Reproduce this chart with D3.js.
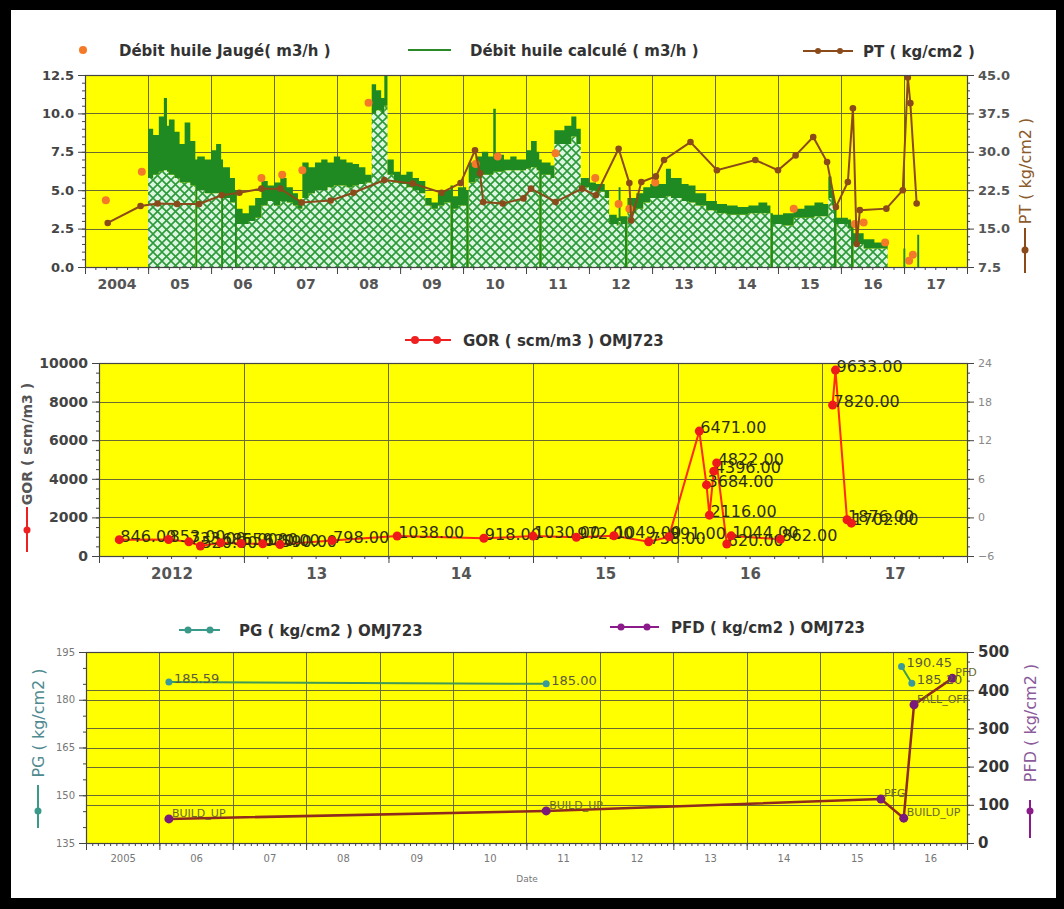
<!DOCTYPE html>
<html>
<head>
<meta charset="utf-8">
<script src="https://cdn.jsdelivr.net/npm/d3@7"></script>
<style>
body { margin: 0; background: #fff; }
svg { display: block; }
text { font-family: "DejaVu Sans", sans-serif; }
</style>
</head>
<body>
<svg width="1064" height="909"></svg>
<script>
// ---- data (decimal years) ----
var topYearLabels = ["2004", "05", "06", "07", "08", "09", "10", "11", "12", "13", "14", "15", "16", "17"];
var topLeftTicks = [0, 2.5, 5, 7.5, 10, 12.5];
var topRightTicks = [7.5, 15, 22.5, 30, 37.5, 45];

var jaugeYears = [2004.33, 2004.90, 2006.80, 2007.13, 2007.45, 2008.50, 2010.20, 2010.55, 2011.47, 2012.10, 2012.47, 2012.64, 2013.05, 2015.25, 2016.22, 2016.36, 2016.70, 2017.08, 2017.14];
var jaugeValues = [4.35, 6.2, 5.8, 6.0, 6.3, 10.7, 6.7, 7.2, 7.4, 5.8, 4.1, 3.8, 5.5, 3.8, 2.8, 2.9, 1.6, 0.4, 0.8];

var calcYears = [2005.00, 2005.08, 2005.17, 2005.25, 2005.30, 2005.33, 2005.42, 2005.50, 2005.58, 2005.67, 2005.75, 2005.78, 2005.90,
    2006.00, 2006.08, 2006.16, 2006.19, 2006.30, 2006.38, 2006.41, 2006.50, 2006.60, 2006.70, 2006.80, 2006.90,
    2007.00, 2007.10, 2007.20, 2007.30, 2007.38, 2007.45, 2007.55, 2007.65, 2007.75, 2007.85, 2007.95,
    2008.05, 2008.15, 2008.25, 2008.35, 2008.45, 2008.55, 2008.62, 2008.70, 2008.75, 2008.80, 2008.90,
    2009.00, 2009.10, 2009.20, 2009.30, 2009.40, 2009.50, 2009.60, 2009.70, 2009.80, 2009.84, 2009.92,
    2010.05, 2010.09, 2010.20, 2010.30, 2010.40, 2010.48, 2010.52, 2010.65, 2010.75, 2010.85,
    2011.00, 2011.08, 2011.17, 2011.21, 2011.25, 2011.39, 2011.45, 2011.61, 2011.72, 2011.80, 2011.87,
    2012.00, 2012.11, 2012.25, 2012.32, 2012.44, 2012.47, 2012.50, 2012.57, 2012.61, 2012.75, 2012.86, 2012.97,
    2013.08, 2013.22, 2013.30, 2013.47, 2013.58, 2013.69, 2013.86,
    2014.03, 2014.19, 2014.36, 2014.53, 2014.69, 2014.83, 2014.88, 2014.92,
    2015.08, 2015.25, 2015.42, 2015.58, 2015.72, 2015.80, 2015.85, 2015.89, 2015.93,
    2016.11, 2016.16, 2016.20, 2016.36, 2016.53, 2016.74, 2016.99, 2017.02, 2017.21, 2017.24];
var calcLow = [5.8, 6.0, 6.2, 6.3, 6.2, 6.0, 5.8, 5.5, 5.5, 5.3, 0, 5.0, 4.8,
    4.8, 4.8, 0, 4.5, 4.2, 0, 2.8, 2.8, 3.0, 3.2, 4.0, 4.3,
    4.0, 4.3, 4.2, 4.0, 3.8, 4.5, 4.8, 5.0, 5.0, 5.2, 5.3,
    5.3, 5.2, 5.3, 5.4, 5.5, 10.0, 10.2, 10.0, 10.5, 6.0, 5.5,
    5.4, 5.2, 5.0, 4.8, 4.0, 3.8, 4.0, 4.2, 0, 3.8, 4.0,
    0, 5.5, 5.8, 6.0, 6.0, 6.2, 6.2, 6.3, 6.3, 6.3,
    6.4, 6.5, 6.3, 0, 6.0, 5.8, 8.0, 8.0, 8.5, 8.0, 5.2,
    5.0, 4.9, 4.5, 2.8, 2.7, 3.0, 2.8, 0, 3.5, 3.8, 4.2, 4.5,
    4.5, 4.6, 4.5, 4.3, 4.2, 4.0, 3.7,
    3.5, 3.4, 3.4, 3.5, 3.5, 3.5, 0, 2.8,
    2.7, 3.2, 3.2, 3.3, 3.3, 4.5, 4.0, 0, 2.8,
    2.5, 0, 1.5, 1.2, 1.2, 0, 0, 0, 0, 0];
var calcHigh = [9.0, 8.6, 9.8, 11.0, 9.2, 9.6, 8.8, 8.0, 9.4, 8.2, 7.0, 7.2, 7.0,
    7.6, 8.0, 7.0, 6.5, 5.8, 5.0, 3.8, 3.5, 4.0, 4.5, 5.6, 5.3,
    5.5, 5.8, 5.2, 4.8, 4.4, 6.8, 6.5, 6.8, 7.0, 6.8, 7.2,
    7.0, 6.8, 6.7, 6.5, 6.0, 11.9, 11.5, 11.0, 12.5, 7.0, 6.2,
    6.0, 6.2, 5.8, 5.6, 4.5, 4.2, 4.8, 5.0, 5.3, 4.6, 5.2,
    5.0, 6.8, 7.2, 7.5, 7.2, 10.3, 7.3, 7.0, 7.2, 7.0,
    7.6, 8.2, 7.5, 7.0, 6.8, 6.6, 8.9, 9.2, 9.8, 9.0, 5.8,
    5.5, 5.4, 5.0, 3.4, 3.2, 5.2, 3.3, 3.3, 4.5, 4.8, 5.2, 5.4,
    5.4, 6.4, 5.8, 5.4, 5.3, 4.8, 4.3,
    4.1, 4.0, 3.9, 4.0, 4.2, 4.0, 3.5, 3.4,
    3.5, 3.8, 4.0, 4.2, 4.1, 5.9, 5.0, 4.0, 3.2,
    3.1, 2.8, 2.2, 1.8, 1.6, 0, 1.2, 0, 2.1, 0];

var ptYears = [2004.36, 2004.88, 2005.15, 2005.46, 2005.81, 2006.17, 2006.45, 2006.80, 2007.10, 2007.44, 2007.90, 2008.26,
    2008.75, 2009.20, 2009.66, 2009.96, 2010.19, 2010.27, 2010.32, 2010.63, 2010.96, 2011.08, 2011.47, 2011.89,
    2012.11, 2012.47, 2012.64, 2012.67, 2012.83, 2013.06, 2013.19, 2013.61, 2014.03, 2014.64, 2015.00, 2015.28,
    2015.56, 2015.78, 2015.92, 2016.11, 2016.19, 2016.25, 2016.30, 2016.72, 2016.98, 2017.06, 2017.10, 2017.20];
var ptValues = [16.1, 19.4, 19.9, 19.8, 19.8, 21.5, 22.0, 22.8, 22.8, 20.1, 20.5, 22.0,
    24.5, 23.8, 22.0, 23.9, 30.3, 25.8, 20.2, 19.9, 20.9, 22.8, 20.2, 22.8,
    21.5, 30.6, 23.9, 16.6, 24.1, 25.2, 28.4, 31.9, 26.4, 28.4, 26.4, 29.3,
    32.9, 28.0, 19.2, 24.1, 38.5, 12.0, 18.6, 18.9, 22.5, 44.5, 39.5, 19.9];

var midYearLabels = ["2012", "13", "14", "15", "16", "17"];
var midLeftTicks = [0, 2000, 4000, 6000, 8000, 10000];
var midRightTicks = [-6, 0, 6, 12, 18, 24];
// null marks a break in the line
var gorYears = [2012.14, 2012.48, 2012.62, 2012.70, 2012.84, 2012.98, 2013.13, 2013.25, 2013.61, 2014.06, 2014.66, 2015.00,
    2015.30, 2015.56, 2015.80, 2015.94, 2016.15, 2016.20, 2016.22, 2016.25, 2016.27, 2016.34, 2016.37, 2016.71,
    null, 2017.07, 2017.09, 2017.17, 2017.20];
var gorValues = [846, 853, 733, 520, 685, 650, 630, 590, 798, 1038, 918, 1030,
    972, 1049, 738, 991, 6471, 3684, 2116, 4396, 4822, 620, 1044, 862,
    null, 7820, 9633, 1876, 1702];

var botYearLabels = ["2005", "06", "07", "08", "09", "10", "11", "12", "13", "14", "15", "16"];
var botLeftTicks = [135, 150, 165, 180, 195];
var botRightTicks = [0, 100, 200, 300, 400, 500];
var pgYears = [2006.13, 2011.27, null, 2016.11, 2016.25];
var pgValues = [185.59, 185.00, null, 190.45, 185.20];
var pfdYears = [2006.13, 2011.27, 2015.83, 2016.14, 2016.28, 2016.80];
var pfdValues = [63, 84, 115, 65, 362, 431];
var pfdLabels = ["BUILD_UP", "BUILD_UP", "PFG", "BUILD_UP", "FALL_OFF", "PFD"];

// ---- helpers ----
function toDate(v) {
    var y = Math.floor(v),
        a = Date.UTC(y, 0, 1),
        b = Date.UTC(y + 1, 0, 1);
    return new Date(a + (v - y) * (b - a));
}
function zip(xs, ys) {
    return xs.map(function (x, i) { return {x: x, y: ys[i], i: i}; });
}
function midYears(a, n) {
    return d3.range(n).map(function (i) { return toDate(a + i + 0.5); });
}

var svg = d3.select("svg");

// frame
svg.append("rect").attr("width", 1064).attr("height", 909).attr("fill", "#000");
svg.append("rect").attr("x", 11).attr("y", 10).attr("width", 1045).attr("height", 888).attr("fill", "#fff");

var defs = svg.append("defs");
var pat = defs.append("pattern").attr("id", "hatch").attr("width", 9).attr("height", 9)
    .attr("patternUnits", "userSpaceOnUse");
pat.append("rect").attr("width", 9).attr("height", 9).attr("fill", "#dcf6e2");
pat.append("path").attr("d", "M0,0 L9,9 M9,0 L0,9").attr("stroke", "#2d9a3a").attr("stroke-width", 1.6);

function clip(id, p) {
    defs.append("clipPath").attr("id", id).append("rect")
        .attr("x", p.left).attr("y", p.top).attr("width", p.right - p.left).attr("height", p.bottom - p.top);
}

function panel(p, x, yGrid, gridVals, years) {
    svg.append("rect").attr("x", p.left).attr("y", p.top)
        .attr("width", p.right - p.left).attr("height", p.bottom - p.top).attr("fill", "#ffff00");
    var g = svg.append("g").attr("stroke", "#6a6a30").attr("stroke-width", 1);
    g.selectAll(".h").data(gridVals).enter().append("line")
        .attr("x1", p.left).attr("x2", p.right)
        .attr("y1", function (d) { return Math.round(yGrid(d)) + 0.5; })
        .attr("y2", function (d) { return Math.round(yGrid(d)) + 0.5; });
    g.selectAll(".v").data(years).enter().append("line")
        .attr("y1", p.top).attr("y2", p.bottom)
        .attr("x1", function (d) { return Math.round(x(d)) + 0.5; })
        .attr("x2", function (d) { return Math.round(x(d)) + 0.5; });
}

function border(p) {
    svg.append("rect").attr("x", p.left + 0.5).attr("y", p.top + 0.5)
        .attr("width", p.right - p.left).attr("height", p.bottom - p.top)
        .attr("fill", "none").attr("stroke", "#444").attr("stroke-width", 1.2);
}

function styleAxis(sel, color, size, weight) {
    sel.select(".domain").remove();
    sel.selectAll("line").attr("stroke", "#444");
    sel.selectAll("text").attr("fill", color).style("font-size", size + "px").style("font-weight", weight)
        .style("font-family", "'DejaVu Sans', sans-serif");
}

function xAxes(p, x, minor, labels, startYear, size, color, weight, dy) {
    svg.append("g").attr("transform", "translate(0," + p.bottom + ")")
        .call(d3.axisBottom(x).ticks(minor).tickSize(3).tickFormat(""))
        .call(styleAxis, color, size, weight);
    svg.append("g").attr("transform", "translate(0," + p.bottom + ")")
        .call(d3.axisBottom(x).ticks(d3.utcYear.every(1)).tickSize(7).tickFormat(""))
        .call(styleAxis, color, size, weight);
    svg.append("g").attr("transform", "translate(0," + p.bottom + ")")
        .call(d3.axisBottom(x).tickValues(midYears(startYear, labels.length)).tickSize(0).tickPadding(dy)
            .tickFormat(function (d, i) { return labels[i]; }))
        .call(styleAxis, color, size, weight);
}

function yAxis(p, y, side, ticks, minorStep, fmt, size, color, weight) {
    var gen = side === "left" ? d3.axisLeft : d3.axisRight,
        xpos = side === "left" ? p.left : p.right,
        dom = y.domain();
    svg.append("g").attr("transform", "translate(" + xpos + ",0)")
        .call(gen(y).tickValues(d3.range(dom[0], dom[1] + minorStep / 2, minorStep)).tickSize(3).tickFormat(""))
        .call(styleAxis, color, size, weight);
    svg.append("g").attr("transform", "translate(" + xpos + ",0)")
        .call(gen(y).tickValues(ticks).tickSize(7).tickPadding(4).tickFormat(fmt))
        .call(styleAxis, color, size, weight);
}

function legendSymbol(x1, x2, y, color, dots, r) {
    svg.append("line").attr("x1", x1).attr("x2", x2).attr("y1", y).attr("y2", y)
        .attr("stroke", color).attr("stroke-width", 2);
    svg.selectAll(null).data(dots).enter().append("circle")
        .attr("cx", function (d) { return d; }).attr("cy", y).attr("r", r).attr("fill", color);
}

function axisTitle(x, yc, text, color, size, weight, y1, y2, yd, lineColor) {
    svg.append("text").attr("transform", "translate(" + x + "," + yc + ") rotate(-90)")
        .attr("text-anchor", "middle").attr("dy", "0.35em")
        .attr("fill", color).style("font-size", size + "px").style("font-weight", weight).text(text);
    svg.append("line").attr("x1", x).attr("x2", x).attr("y1", y1).attr("y2", y2)
        .attr("stroke", lineColor).attr("stroke-width", 2);
    svg.append("circle").attr("cx", x).attr("cy", yd).attr("r", 3.5).attr("fill", lineColor);
}

function legendText(x, y, text, size) {
    svg.append("text").attr("x", x).attr("y", y).attr("fill", "#333")
        .style("font-size", size + "px").style("font-weight", "bold").text(text);
}

// ================= top panel =================
var T = {left: 85, right: 967, top: 75, bottom: 267};
var xTop = d3.scaleUtc().domain([toDate(2004), toDate(2018)]).range([T.left, T.right]);
var yCalc = d3.scaleLinear().domain([0, 12.5]).range([T.bottom, T.top]);
var yPT = d3.scaleLinear().domain([7.5, 45]).range([T.bottom, T.top]);
clip("clipTop", T);

panel(T, xTop, yCalc, [2.5, 5, 7.5, 10], d3.range(2005, 2018).map(toDate));

var calc = zip(calcYears, calcLow).map(function (d) { d.h = calcHigh[d.i]; return d; });
var gTop = svg.append("g").attr("clip-path", "url(#clipTop)");
gTop.append("path").datum(calc)
    .attr("d", d3.area().curve(d3.curveStepAfter)
        .x(function (d) { return xTop(toDate(d.x)); })
        .y0(yCalc(0)).y1(function (d) { return yCalc(d.y); }))
    .attr("fill", "url(#hatch)");
gTop.append("path").datum(calc)
    .attr("d", d3.area().curve(d3.curveStepAfter)
        .x(function (d) { return xTop(toDate(d.x)); })
        .y0(function (d) { return yCalc(d.y); }).y1(function (d) { return yCalc(d.h); }))
    .attr("fill", "#1f8a22");

gTop.selectAll(".jg").data(zip(jaugeYears, jaugeValues)).enter().append("circle")
    .attr("cx", function (d) { return xTop(toDate(d.x)); })
    .attr("cy", function (d) { return yCalc(d.y); })
    .attr("r", 4).attr("fill", "#f47a2a");

var pt = zip(ptYears, ptValues);
gTop.append("path").datum(pt)
    .attr("d", d3.line().x(function (d) { return xTop(toDate(d.x)); }).y(function (d) { return yPT(d.y); }))
    .attr("fill", "none").attr("stroke", "#8b4a1a").attr("stroke-width", 2);
gTop.selectAll(".pt").data(pt).enter().append("circle")
    .attr("cx", function (d) { return xTop(toDate(d.x)); })
    .attr("cy", function (d) { return yPT(d.y); })
    .attr("r", 3.3).attr("fill", "#8b4a1a");

border(T);
xAxes(T, xTop, d3.utcMonth.every(2), topYearLabels, 2004, 14, "#555", "bold", 12);
yAxis(T, yCalc, "left", topLeftTicks, 0.5, d3.format(".1f"), 13, "#444", "bold");
yAxis(T, yPT, "right", topRightTicks, 1.5, d3.format(".1f"), 13, "#555", "bold");

svg.append("circle").attr("cx", 83).attr("cy", 50).attr("r", 4).attr("fill", "#f47a2a");
legendText(119, 56, "Débit huile Jaugé( m3/h )", 15);
legendSymbol(408, 451, 50, "#2a8a2a", [], 0);
legendText(470, 56, "Débit huile calculé ( m3/h )", 15);
legendSymbol(803, 853, 51, "#8b4a1a", [818, 840], 3);
legendText(863, 57, "PT ( kg/cm2 )", 15);
axisTitle(1025, 171, "PT ( kg/cm2 )", "#8b5a2b", 16, "normal", 228, 273, 250, "#8b4a1a");

// ================= middle panel =================
var M = {left: 99, right: 967, top: 363, bottom: 556};
var xMid = d3.scaleUtc().domain([toDate(2012), toDate(2018)]).range([M.left, M.right]);
var yGor = d3.scaleLinear().domain([0, 10000]).range([M.bottom, M.top]);
var yGor2 = d3.scaleLinear().domain([-6, 24]).range([M.bottom, M.top]);
clip("clipMid", M);

panel(M, xMid, yGor, [2000, 4000, 6000, 8000], d3.range(2013, 2018).map(toDate));

var gor = zip(gorYears, gorValues);
var gMid = svg.append("g");
gMid.append("path").datum(gor)
    .attr("d", d3.line().defined(function (d) { return d.y !== null; })
        .x(function (d) { return xMid(toDate(d.x)); }).y(function (d) { return yGor(d.y); }))
    .attr("fill", "none").attr("stroke", "#ff2a10").attr("stroke-width", 2);
var gorPts = gor.filter(function (d) { return d.y !== null; });
gMid.selectAll(".gl").data(gorPts).enter().append("text")
    .attr("x", function (d) { return xMid(toDate(d.x)) + 1; })
    .attr("y", function (d) { return yGor(d.y) + 2; })
    .attr("fill", "#2e2e10").style("font-size", "16px")
    .text(function (d) { return d.y.toFixed(2); });
gMid.selectAll(".gp").data(gorPts).enter().append("circle")
    .attr("cx", function (d) { return xMid(toDate(d.x)); })
    .attr("cy", function (d) { return yGor(d.y); })
    .attr("r", 4.5).attr("fill", "#ee1a1a");

border(M);
xAxes(M, xMid, d3.utcMonth.every(2), midYearLabels, 2012, 15, "#555", "bold", 12);
yAxis(M, yGor, "left", midLeftTicks, 500, d3.format("d"), 14, "#444", "bold");
yAxis(M, yGor2, "right", midRightTicks, 1.5, d3.format("d"), 11, "#888", "normal");

legendSymbol(405, 451, 340, "#ee2020", [415, 437], 4);
legendText(463, 346, "GOR ( scm/m3 ) OMJ723", 15);
axisTitle(27, 444, "GOR ( scm/m3 )", "#555", 14, "bold", 507, 552, 530, "#ee2020");

// ================= bottom panel =================
var B = {left: 86, right: 967, top: 652, bottom: 843};
var xBot = d3.scaleUtc().domain([toDate(2005), toDate(2017)]).range([B.left, B.right]);
var yPG = d3.scaleLinear().domain([135, 195]).range([B.bottom, B.top]);
var yPFD = d3.scaleLinear().domain([0, 500]).range([B.bottom, B.top]);

panel(B, xBot, yPG, [150, 165, 180], d3.range(2006, 2017).map(toDate));
svg.append("g").attr("stroke", "#6a6a30").selectAll("line").data([100, 200, 300, 400]).enter().append("line")
    .attr("x1", B.left).attr("x2", B.right)
    .attr("y1", function (d) { return Math.round(yPFD(d)) + 0.5; })
    .attr("y2", function (d) { return Math.round(yPFD(d)) + 0.5; });

var pfd = zip(pfdYears, pfdValues);
var gBot = svg.append("g");
gBot.append("path").datum(pfd)
    .attr("d", d3.line().x(function (d) { return xBot(toDate(d.x)); }).y(function (d) { return yPFD(d.y); }))
    .attr("fill", "none").attr("stroke", "#8e2a1e").attr("stroke-width", 2.5);
gBot.selectAll(".fl").data(pfd).enter().append("text")
    .attr("x", function (d) { return xBot(toDate(d.x)) + 3; })
    .attr("y", function (d) { return yPFD(d.y) - 2; })
    .attr("fill", "#6a6a2a").style("font-size", "11px")
    .text(function (d) { return pfdLabels[d.i]; });
gBot.selectAll(".fp").data(pfd).enter().append("circle")
    .attr("cx", function (d) { return xBot(toDate(d.x)); })
    .attr("cy", function (d) { return yPFD(d.y); })
    .attr("r", 4.5).attr("fill", "#7a1a7a");

var pg = zip(pgYears, pgValues);
gBot.append("path").datum(pg)
    .attr("d", d3.line().defined(function (d) { return d.y !== null; })
        .x(function (d) { return xBot(toDate(d.x)); }).y(function (d) { return yPG(d.y); }))
    .attr("fill", "none").attr("stroke", "#3f9a55").attr("stroke-width", 2);
var pgPts = pg.filter(function (d) { return d.y !== null; });
gBot.selectAll(".gl2").data(pgPts).enter().append("text")
    .attr("x", function (d) { return xBot(toDate(d.x)) + 5; })
    .attr("y", function (d) { return yPG(d.y) + 1; })
    .attr("fill", "#5a5a3a").style("font-size", "13px")
    .text(function (d) { return d.y.toFixed(2); });
gBot.selectAll(".gp2").data(pgPts).enter().append("circle")
    .attr("cx", function (d) { return xBot(toDate(d.x)); })
    .attr("cy", function (d) { return yPG(d.y); })
    .attr("r", 3.5).attr("fill", "#3a9a9a");

border(B);
xAxes(B, xBot, d3.utcMonth.every(1), botYearLabels, 2005, 10, "#777", "normal", 12);
yAxis(B, yPG, "left", botLeftTicks, 5, d3.format("d"), 10, "#777", "normal");
yAxis(B, yPFD, "right", botRightTicks, 25, d3.format("d"), 15, "#333", "bold");

legendSymbol(179, 220, 630, "#3a9a8a", [188, 210], 3.5);
legendText(239, 636, "PG ( kg/cm2 ) OMJ723", 15);
legendSymbol(610, 659, 627, "#8b1a8b", [621, 647], 3.5);
legendText(671, 633, "PFD ( kg/cm2 ) OMJ723", 15);
axisTitle(38, 723, "PG ( kg/cm2 )", "#4f8a8f", 16, "normal", 785, 828, 811, "#3a9a8a");
axisTitle(1030, 723, "PFD ( kg/cm2 )", "#8a5a9a", 16, "normal", 800, 838, 811, "#8b1a8b");

svg.append("text").attr("x", 527).attr("y", 882).attr("text-anchor", "middle")
    .attr("fill", "#777").style("font-size", "9px").text("Date");
</script>
</body>
</html>
